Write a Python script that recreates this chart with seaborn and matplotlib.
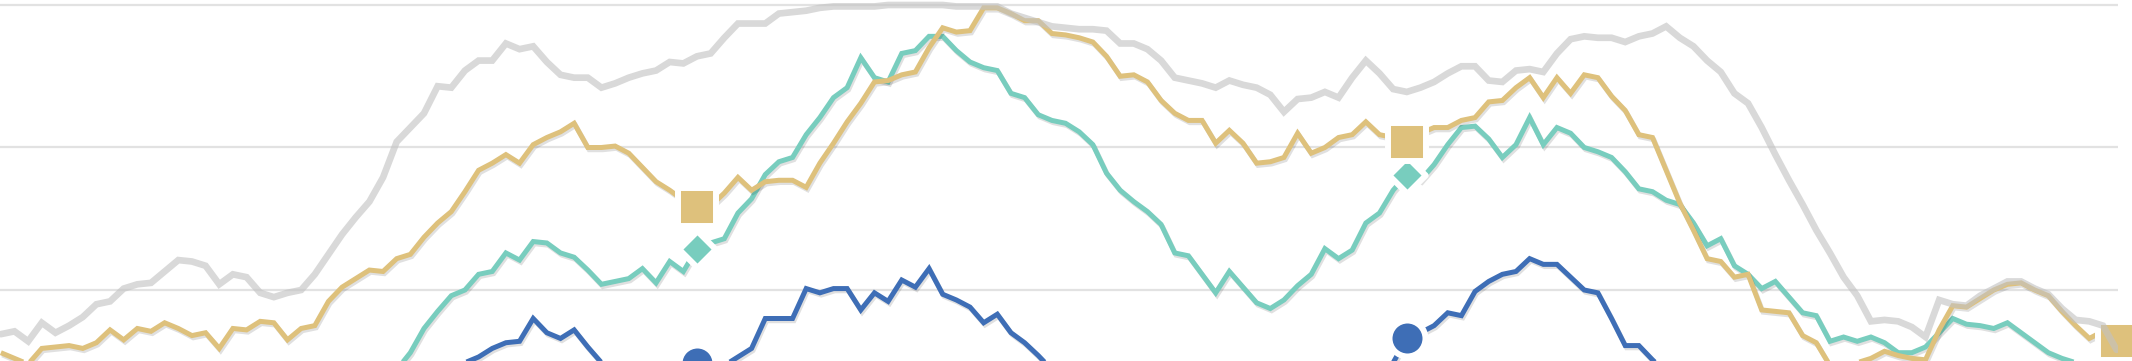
import matplotlib
matplotlib.use("Agg")
import matplotlib.pyplot as plt
import matplotlib.patheffects as pe
import pandas as pd
import seaborn as sns

# ---- data (weekly values, three seasons of 52 weeks) ----
weeks = list(range(156))

grey_vals = [
    6.9, 7.1, 6.4, 7.7, 7.0, 7.5, 8.1, 9.0, 9.2, 10.1,
    10.4, 10.5, 11.3, 12.1, 12.0, 11.7, 10.4, 11.1, 10.9, 9.8,
    9.5, 9.8, 10.0, 11.1, 12.5, 13.9, 15.1, 16.2, 17.9, 20.4,
    21.4, 22.4, 24.3, 24.2, 25.4, 26.1, 26.1, 27.3, 26.9, 27.1,
    26.0, 25.1, 24.9, 24.9, 24.2, 24.5, 24.9, 25.2, 25.4, 26.0,
    25.9, 26.4, 26.6, 27.7, 28.7, 28.7, 28.7, 29.4, 29.5, 29.6,
    29.8, 29.9, 29.9, 29.9, 29.9, 30.0, 30.0, 30.0, 30.0, 30.0,
    29.9, 29.9, 29.9, 29.9, 29.4, 29.1, 28.8, 28.5, 28.4, 28.3,
    28.3, 28.2, 27.3, 27.3, 26.9, 26.1, 24.9, 24.7, 24.5, 24.2,
    24.7, 24.4, 24.2, 23.7, 22.5, 23.4, 23.5, 23.9, 23.5, 24.9,
    26.1, 25.2, 24.1, 23.9, 24.2, 24.6, 25.2, 25.7, 25.7, 24.7,
    24.6, 25.4, 25.5, 25.3, 26.6, 27.6, 27.8, 27.7, 27.7, 27.4,
    27.8, 28.0, 28.5, 27.7, 27.1, 26.1, 25.3, 23.8, 23.1, 21.4,
    19.5, 17.7, 16.0, 14.2, 12.6, 10.9, 9.6, 7.8, 7.9, 7.8,
    7.4, 6.7, 9.3, 9.0, 8.9, 9.6, 10.1, 10.6, 10.6, 10.1,
    9.7, 8.7, 7.9, 7.8, 7.5, 5.8,
]

gold_vals = [
    5.6, 5.2, 4.8, 5.9, 6.0, 6.1, 5.9, 6.3, 7.2, 6.5,
    7.3, 7.1, 7.7, 7.3, 6.8, 7.0, 5.9, 7.3, 7.2, 7.8,
    7.7, 6.5, 7.3, 7.5, 9.2, 10.2, 10.8, 11.4, 11.3, 12.2,
    12.5, 13.7, 14.7, 15.5, 16.9, 18.4, 18.9, 19.5, 18.9, 20.2,
    20.7, 21.1, 21.7, 20.0, 20.0, 20.1, 19.6, 18.6, 17.6, 17.0,
    16.3, 15.8, 15.9, 16.8, 17.9, 17.0, 17.6, 17.7, 17.7, 17.2,
    18.9, 20.3, 21.8, 23.1, 24.6, 24.7, 25.1, 25.3, 27.0, 28.4,
    28.1, 28.2, 29.8, 29.8, 29.4, 28.9, 28.9, 28.0, 27.9, 27.7,
    27.4, 26.4, 25.0, 25.1, 24.6, 23.3, 22.4, 21.9, 21.9, 20.3,
    21.2, 20.3, 18.9, 19.0, 19.3, 21.0, 19.6, 20.0, 20.7, 20.9,
    21.8, 20.9, 20.7, 20.4, 21.0, 21.4, 21.4, 21.9, 22.1, 23.2,
    23.3, 24.2, 24.9, 23.5, 24.9, 23.8, 25.1, 24.9, 23.6, 22.6,
    20.9, 20.7, 18.4, 16.1, 14.2, 12.2, 12.0, 10.9, 11.1, 8.6,
    8.5, 8.4, 6.8, 6.3, 4.7, 4.4, 4.9, 5.2, 5.7, 5.4,
    5.2, 5.1, 7.2, 8.9, 8.8, 9.4, 10.0, 10.4, 10.5, 10.0,
    9.6, 8.5, 7.5, 6.6, 7.1, 6.4,
]

teal_vals = [
    3.2, 3.0, 2.8, 3.1, 3.3, 3.0, 2.9, 3.2, 3.4, 3.3,
    3.5, 3.4, 3.6, 3.5, 3.3, 3.4, 3.2, 3.5, 3.4, 3.6,
    3.3, 3.5, 3.4, 3.6, 3.7, 3.8, 3.9, 4.0, 4.2, 4.4,
    5.6, 7.3, 8.5, 9.6, 10.0, 11.1, 11.3, 12.6, 12.1, 13.4,
    13.3, 12.6, 12.3, 11.4, 10.4, 10.6, 10.8, 11.5, 10.5, 12.0,
    11.3, 12.9, 13.3, 13.6, 15.4, 16.4, 18.1, 19.0, 19.3, 20.9,
    22.1, 23.5, 24.2, 26.3, 24.9, 24.6, 26.6, 26.8, 27.8, 27.8,
    26.8, 26.0, 25.6, 25.4, 23.8, 23.5, 22.3, 21.9, 21.7, 21.1,
    20.2, 18.2, 17.0, 16.2, 15.5, 14.6, 12.6, 12.4, 11.1, 9.8,
    11.3, 10.2, 9.1, 8.7, 9.3, 10.3, 11.1, 12.9, 12.2, 12.8,
    14.7, 15.4, 17.0, 18.1, 17.7, 18.8, 20.2, 21.4, 21.5, 20.6,
    19.3, 20.2, 22.1, 20.2, 21.4, 21.0, 20.0, 19.7, 19.3, 18.3,
    17.1, 16.9, 16.3, 16.0, 14.7, 13.1, 13.6, 11.7, 11.1, 10.1,
    10.6, 9.5, 8.4, 8.2, 6.4, 6.7, 6.4, 6.7, 6.3, 5.6,
    5.6, 6.0, 7.0, 8.0, 7.6, 7.5, 7.3, 7.7, 7.0, 6.3,
    5.6, 5.2, 4.9, 4.2, 3.7, 3.1,
]

blue_vals = [
    2.4, 2.6, 2.5, 2.7, 2.6, 2.8, 2.7, 2.9, 3.0, 2.8,
    3.0, 3.1, 2.9, 3.2, 3.1, 3.3, 3.2, 3.0, 3.3, 3.4,
    3.2, 3.5, 3.4, 3.6, 3.5, 3.7, 3.6, 3.8, 3.7, 3.9,
    3.8, 4.0, 3.9, 4.1, 4.9, 5.3, 5.9, 6.3, 6.4, 8.0,
    7.0, 6.6, 7.2, 6.0, 4.9, 4.0, 3.3, 2.8, 2.6, 2.8,
    3.7, 4.9, 4.2, 4.7, 5.3, 5.9, 8.0, 8.0, 8.0, 10.1,
    9.8, 10.1, 10.1, 8.6, 9.8, 9.2, 10.7, 10.2, 11.5, 9.7,
    9.3, 8.8, 7.7, 8.3, 7.0, 6.3, 5.4, 4.4, 3.9, 3.6,
    3.4, 3.2, 3.0, 2.9, 2.7, 2.8, 2.6, 2.5, 2.7, 2.6,
    2.8, 2.7, 2.9, 3.0, 2.9, 3.1, 3.2, 3.0, 3.3, 3.4,
    3.6, 3.9, 4.9, 6.6, 7.0, 7.5, 8.4, 8.2, 9.9, 10.6,
    11.1, 11.3, 12.2, 11.8, 11.8, 10.9, 10.0, 9.8, 8.0, 6.1,
    6.1, 5.1, 4.2, 3.8, 3.5, 3.3, 3.1, 3.0, 2.8, 2.9,
    2.7, 2.6, 2.8, 2.5, 2.6, 2.4, 2.5, 2.3, 2.4, 2.2,
    2.3, 2.1, 2.2, 2.0, 2.1, 2.2, 2.0, 2.1, 1.9, 2.0,
    1.9, 2.0, 1.8, 1.9, 1.7, 1.8,
]

season_end_weeks = [51, 103, 155]
grid_levels = [10, 20, 30]

# ---- styling ----
GOLD = "#DEC17C"
TEAL = "#78CDBE"
BLUE = "#3E6EB6"
GREY = "#C2C2C2"

sns.set_theme(style="white")

fig = plt.figure(figsize=(21.32, 3.61), dpi=100)
ax = fig.add_axes([0, 0, 2118 / 2132, 1])

shadow = [pe.SimpleLineShadow(offset=(1.0, -1.6), shadow_color="black", alpha=0.12),
          pe.Normal()]

colored = [
    ("blue", blue_vals, BLUE, "o", 25.9 ** 2),
    ("teal", teal_vals, TEAL, "D", 18.6 ** 2),
    ("gold", gold_vals, GOLD, "s", 27.4 ** 2),
]

for name, vals, color, marker, msize in colored:
    sns.lineplot(x=weeks, y=vals, color=color, linewidth=3.6, ax=ax,
                 zorder=2, estimator=None)
    ln = ax.lines[-1]
    ln.set_path_effects(shadow)
    ln.set_solid_joinstyle("miter")
    ln.set_solid_capstyle("butt")

for name, vals, color, marker, msize in colored:
    mx = [weeks[i] for i in season_end_weeks]
    my = [vals[i] for i in season_end_weeks]
    sns.scatterplot(x=mx, y=my, marker=marker, s=msize, color=color,
                    edgecolor="white", linewidth=4.3, ax=ax, zorder=3)
    ax.collections[-1].set_clip_on(False)

sns.lineplot(x=weeks, y=grey_vals, color=GREY, linewidth=4.8, alpha=0.62,
             ax=ax, zorder=4, estimator=None)
gl = ax.lines[-1]
gl.set_solid_joinstyle("miter")

# ---- axes ----
x_step = 13.65
ax.set_xlim(-0.85 / x_step, (2118 - 0.85) / x_step)
px_per_unit = 14.25
ax.set_ylim(30 - 356 / px_per_unit, 30 + 5 / px_per_unit)
ax.set_yticks(grid_levels)
ax.set_xticks([])
ax.tick_params(length=0, labelleft=False, labelbottom=False)
ax.yaxis.grid(True, color="#E2E2E2", linewidth=1.6)
ax.set_axisbelow(True)
for s in ax.spines.values():
    s.set_visible(False)
ax.set_xlabel("")
ax.set_ylabel("")

fig.savefig("out.png", dpi=100)
